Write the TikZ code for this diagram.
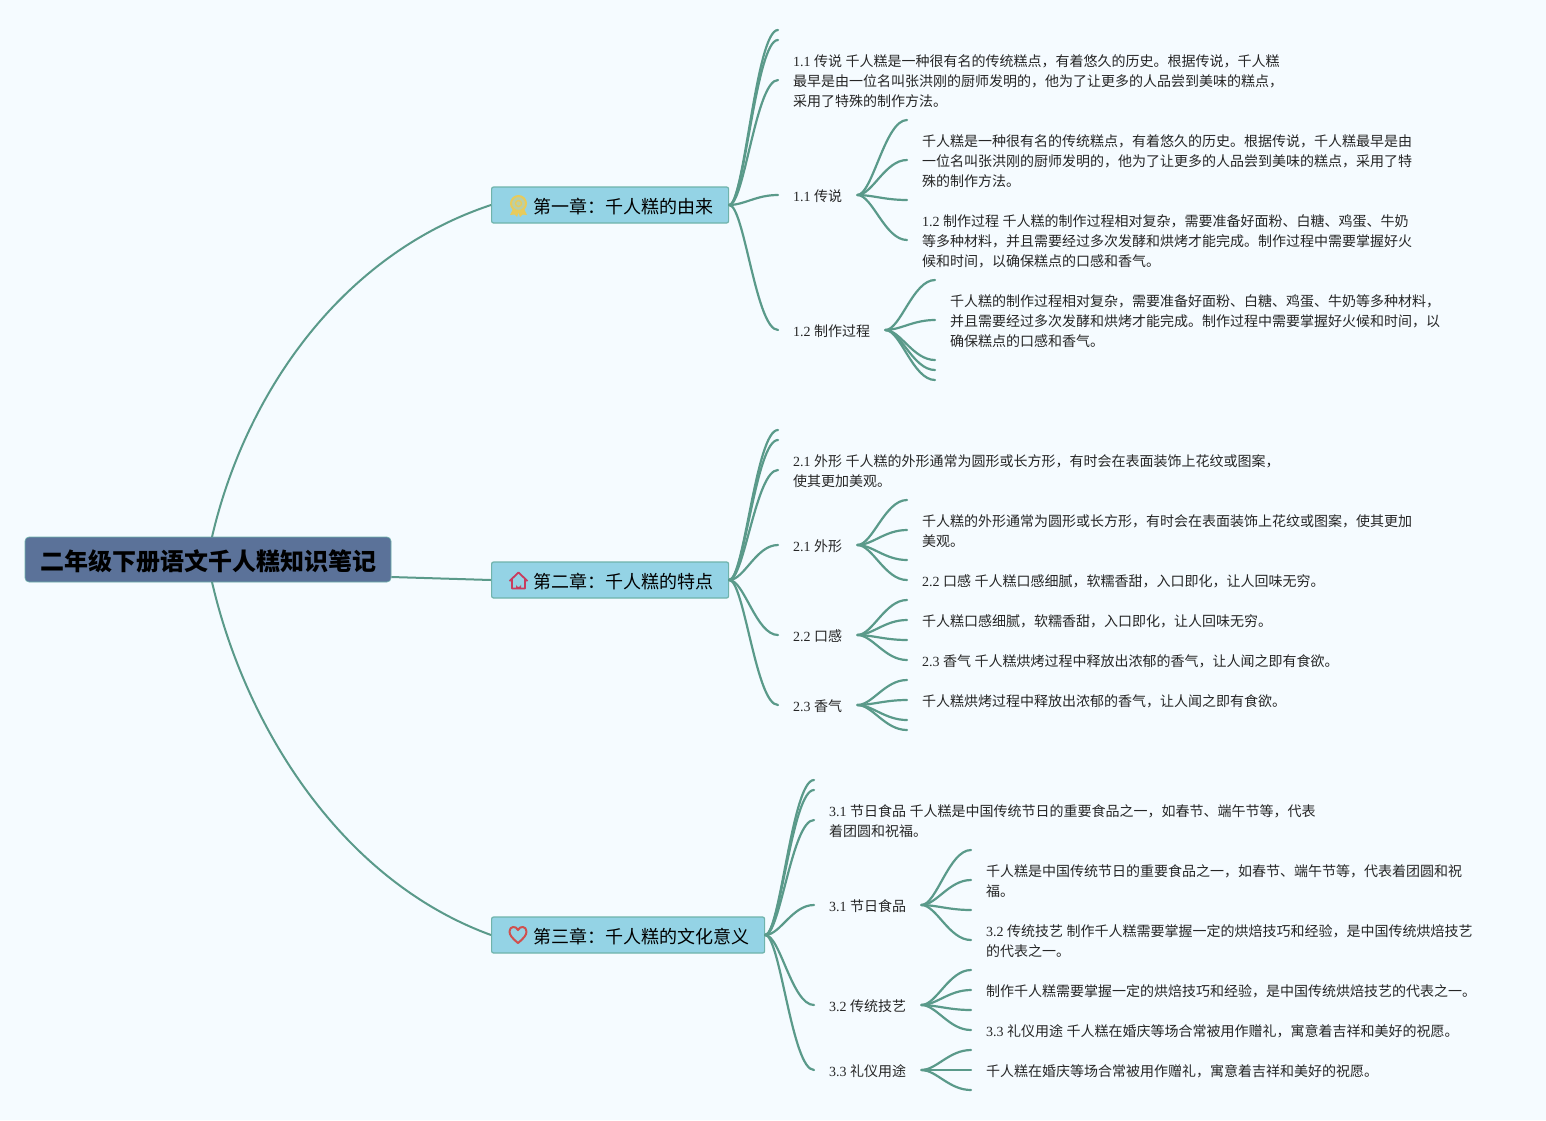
\documentclass[tikz,border=0pt]{standalone}
\usepackage{fontspec}
\setmainfont{Noto Sans CJK SC}
\newfontfamily\latnum{Liberation Serif}
\newcommand{\nm}[1]{{\latnum #1\ }}
\newcommand{\fl}{\rule{0pt}{14.2pt}}
\definecolor{bgcol}{HTML}{F5FBFF}
\definecolor{linecol}{HTML}{5A9A8A}
\definecolor{chapcol}{HTML}{94D3E5}
\definecolor{chapline}{HTML}{6FB3AB}
\definecolor{rootcol}{HTML}{5B7299}
\definecolor{medalcol}{HTML}{E8CB5A}
\definecolor{housecol}{HTML}{C93C5E}
\definecolor{heartcol}{HTML}{D0504E}

\begin{document}
\begin{tikzpicture}[x=1pt,y=-1pt]
	\tikzset{
		rootbox/.style={draw=chapline, line width=0.6pt, fill=rootcol, rounded corners=4pt, minimum width=366pt, minimum height=45pt, inner sep=0pt, font=\fontsize{24}{30}\selectfont\bfseries, execute at begin node={\rule{0pt}{25pt}}},
		chapbox/.style={draw=chapline, line width=1.2pt, fill=chapcol, rounded corners=2pt, minimum height=36pt, inner xsep=15pt, inner ysep=0pt, anchor=west, font=\fontsize{18}{24}\selectfont, execute at begin node={\rule{0pt}{18.6pt}}},
		txt/.style={anchor=west, align=left, inner xsep=15pt, inner ysep=2pt, text=black!85, font=\fontsize{14}{20}\selectfont},
		branch/.style={draw=linecol, line width=2.2pt, line cap=round, to path={.. controls +(15,0) and +(-22,0) .. (\tikztotarget)}},
		trunk/.style={draw=linecol, line width=2pt}
	}
	\useasboundingbox (0,0) rectangle (1546,1120);
	\fill[bgcol] (0,0) rectangle (1546,1120);

	% Root and chapter nodes
	\node[rootbox] (root) at (208,559.5) {二年级下册语文千人糕知识笔记};
	\node[chapbox] (ch1) at (491,205) {\hspace*{27pt}第一章：千人糕的由来};
	\node[chapbox] (ch2) at (491,580) {\hspace*{27pt}第二章：千人糕的特点};
	\node[chapbox] (ch3) at (491,935) {\hspace*{27pt}第三章：千人糕的文化意义};

	% Chapter one texts
	\node[txt] (a0) at (778,80) {\fl\nm{1.1}传说\nm{}千人糕是一种很有名的传统糕点，有着悠久的历史。根据传说，千人糕\\最早是由一位名叫张洪刚的厨师发明的，他为了让更多的人品尝到美味的糕点，\\采用了特殊的制作方法。};
	\node[txt] (a1) at (778,195) {\fl\nm{1.1}传说};
	\node[txt] (a2) at (778,330) {\fl\nm{1.2}制作过程};
	\node[txt] (a11) at (907,160) {\fl 千人糕是一种很有名的传统糕点，有着悠久的历史。根据传说，千人糕最早是由\\一位名叫张洪刚的厨师发明的，他为了让更多的人品尝到美味的糕点，采用了特\\殊的制作方法。};
	\node[txt] (a12) at (907,240) {\fl\nm{1.2}制作过程\nm{}千人糕的制作过程相对复杂，需要准备好面粉、白糖、鸡蛋、牛奶\\等多种材料，并且需要经过多次发酵和烘烤才能完成。制作过程中需要掌握好火\\候和时间，以确保糕点的口感和香气。};
	\node[txt] (a21) at (935,320) {\fl 千人糕的制作过程相对复杂，需要准备好面粉、白糖、鸡蛋、牛奶等多种材料，\\并且需要经过多次发酵和烘烤才能完成。制作过程中需要掌握好火候和时间，以\\确保糕点的口感和香气。};

	% Chapter two texts
	\node[txt] (b0) at (778,470) {\fl\nm{2.1}外形\nm{}千人糕的外形通常为圆形或长方形，有时会在表面装饰上花纹或图案，\\使其更加美观。};
	\node[txt] (b1) at (778,545) {\fl\nm{2.1}外形};
	\node[txt] (b2) at (778,635) {\fl\nm{2.2}口感};
	\node[txt] (b3) at (778,705) {\fl\nm{2.3}香气};
	\node[txt] (b11) at (907,530) {\fl 千人糕的外形通常为圆形或长方形，有时会在表面装饰上花纹或图案，使其更加\\美观。};
	\node[txt] (b12) at (907,580) {\fl\nm{2.2}口感\nm{}千人糕口感细腻，软糯香甜，入口即化，让人回味无穷。};
	\node[txt] (b21) at (907,620) {\fl 千人糕口感细腻，软糯香甜，入口即化，让人回味无穷。};
	\node[txt] (b22) at (907,660) {\fl\nm{2.3}香气\nm{}千人糕烘烤过程中释放出浓郁的香气，让人闻之即有食欲。};
	\node[txt] (b31) at (907,700) {\fl 千人糕烘烤过程中释放出浓郁的香气，让人闻之即有食欲。};

	% Chapter three texts
	\node[txt] (c0) at (814,820) {\fl\nm{3.1}节日食品\nm{}千人糕是中国传统节日的重要食品之一，如春节、端午节等，代表\\着团圆和祝福。};
	\node[txt] (c1) at (814,905) {\fl\nm{3.1}节日食品};
	\node[txt] (c2) at (814,1005) {\fl\nm{3.2}传统技艺};
	\node[txt] (c3) at (814,1070) {\fl\nm{3.3}礼仪用途};
	\node[txt] (c11) at (971,880) {\fl 千人糕是中国传统节日的重要食品之一，如春节、端午节等，代表着团圆和祝\\福。};
	\node[txt] (c12) at (971,940) {\fl\nm{3.2}传统技艺\nm{}制作千人糕需要掌握一定的烘焙技巧和经验，是中国传统烘焙技艺\\的代表之一。};
	\node[txt] (c21) at (971,990) {\fl 制作千人糕需要掌握一定的烘焙技巧和经验，是中国传统烘焙技艺的代表之一。};
	\node[txt] (c22) at (971,1030) {\fl\nm{3.3}礼仪用途\nm{}千人糕在婚庆等场合常被用作赠礼，寓意着吉祥和美好的祝愿。};
	\node[txt] (c31) at (971,1070) {\fl 千人糕在婚庆等场合常被用作赠礼，寓意着吉祥和美好的祝愿。};

	% Free ends
	\coordinate (a0x) at (778,30);
	\coordinate (a0y) at (778,40);
	\coordinate (a1x) at (907,120);
	\coordinate (a1y) at (907,200);
	\coordinate (a2x) at (935,280);
	\coordinate (a2y) at (935,360);
	\coordinate (a2z) at (935,370);
	\coordinate (a2w) at (935,380);
	\coordinate (b0x) at (778,430);
	\coordinate (b0y) at (778,440);
	\coordinate (b1x) at (907,500);
	\coordinate (b1y) at (907,560);
	\coordinate (b2x) at (907,600);
	\coordinate (b2y) at (907,640);
	\coordinate (b3x) at (907,680);
	\coordinate (b3y) at (907,720);
	\coordinate (b3z) at (907,730);
	\coordinate (c0x) at (814,780);
	\coordinate (c0y) at (814,790);
	\coordinate (c1x) at (971,850);
	\coordinate (c1y) at (971,910);
	\coordinate (c2x) at (971,970);
	\coordinate (c2y) at (971,1010);
	\coordinate (c3x) at (971,1050);
	\coordinate (c3y) at (971,1090);

	% Connect root
	\draw[trunk] (212,537) .. controls (245,395) and (340,255) .. (ch1.west);
	\draw[trunk] (212,582) .. controls (245,725) and (340,880) .. (ch3.west);
	\draw[trunk] (root.east |- 0,577) -- (ch2.west);

	% Connect chapter one
	\foreach \e in {a0x,a0y,a0,a1,a2} \draw[branch] (ch1.east) to (\e.west);
	\foreach \e in {a1x,a11,a1y,a12} \draw[branch] (a1.east) to (\e.west);
	\foreach \e in {a2x,a21,a2y,a2z,a2w} \draw[branch] (a2.east) to (\e.west);

	% Connect chapter two
	\foreach \e in {b0x,b0y,b0,b1,b2,b3} \draw[branch] (ch2.east) to (\e.west);
	\foreach \e in {b1x,b11,b1y,b12} \draw[branch] (b1.east) to (\e.west);
	\foreach \e in {b2x,b21,b2y,b22} \draw[branch] (b2.east) to (\e.west);
	\foreach \e in {b3x,b31,b3y,b3z} \draw[branch] (b3.east) to (\e.west);

	% Connect chapter three
	\foreach \e in {c0x,c0y,c0,c1,c2,c3} \draw[branch] (ch3.east) to (\e.west);
	\foreach \e in {c1x,c11,c1y,c12} \draw[branch] (c1.east) to (\e.west);
	\foreach \e in {c2x,c21,c2y,c22} \draw[branch] (c2.east) to (\e.west);
	\foreach \e in {c3x,c31,c3y} \draw[branch] (c3.east) to (\e.west);

	% Medal icon
	\fill[medalcol!45!chapcol] (518.5,203.5) circle (7.5);
	\draw[medalcol, line width=2pt] (518.5,203.5) circle (7.5);
	\draw[medalcol, line width=1.3pt] (518.5,203.5) circle (3);
	\fill[medalcol] (513,209) -- (510,215) -- (514.5,214.5) -- (517,217) -- (518.5,212.5) -- (520,217) -- (522.5,214.5) -- (527,215) -- (524,209) -- (518.5,211.5) -- cycle;

	% House icon
	\draw[housecol, line width=1.8pt, line join=round] (509.5,581) -- (518.5,572.5) -- (527.5,581) (512,579) -- (512,588.5) -- (525,588.5) -- (525,579);
	\fill[housecol] (516,588.5) -- (516,584.5) arc[start angle=180, end angle=0, radius=2.5] -- (521,588.5) -- cycle;

	% Heart icon
	\draw[heartcol, line width=2pt, line join=round] (518,943) .. controls (512,938) and (509.5,935) .. (509.5,931.5) .. controls (509.5,926) and (516,925.5) .. (518,930) .. controls (520,925.5) and (526.5,926) .. (526.5,931.5) .. controls (526.5,935) and (524,938) .. (518,943) -- cycle;
\end{tikzpicture}
\end{document}
